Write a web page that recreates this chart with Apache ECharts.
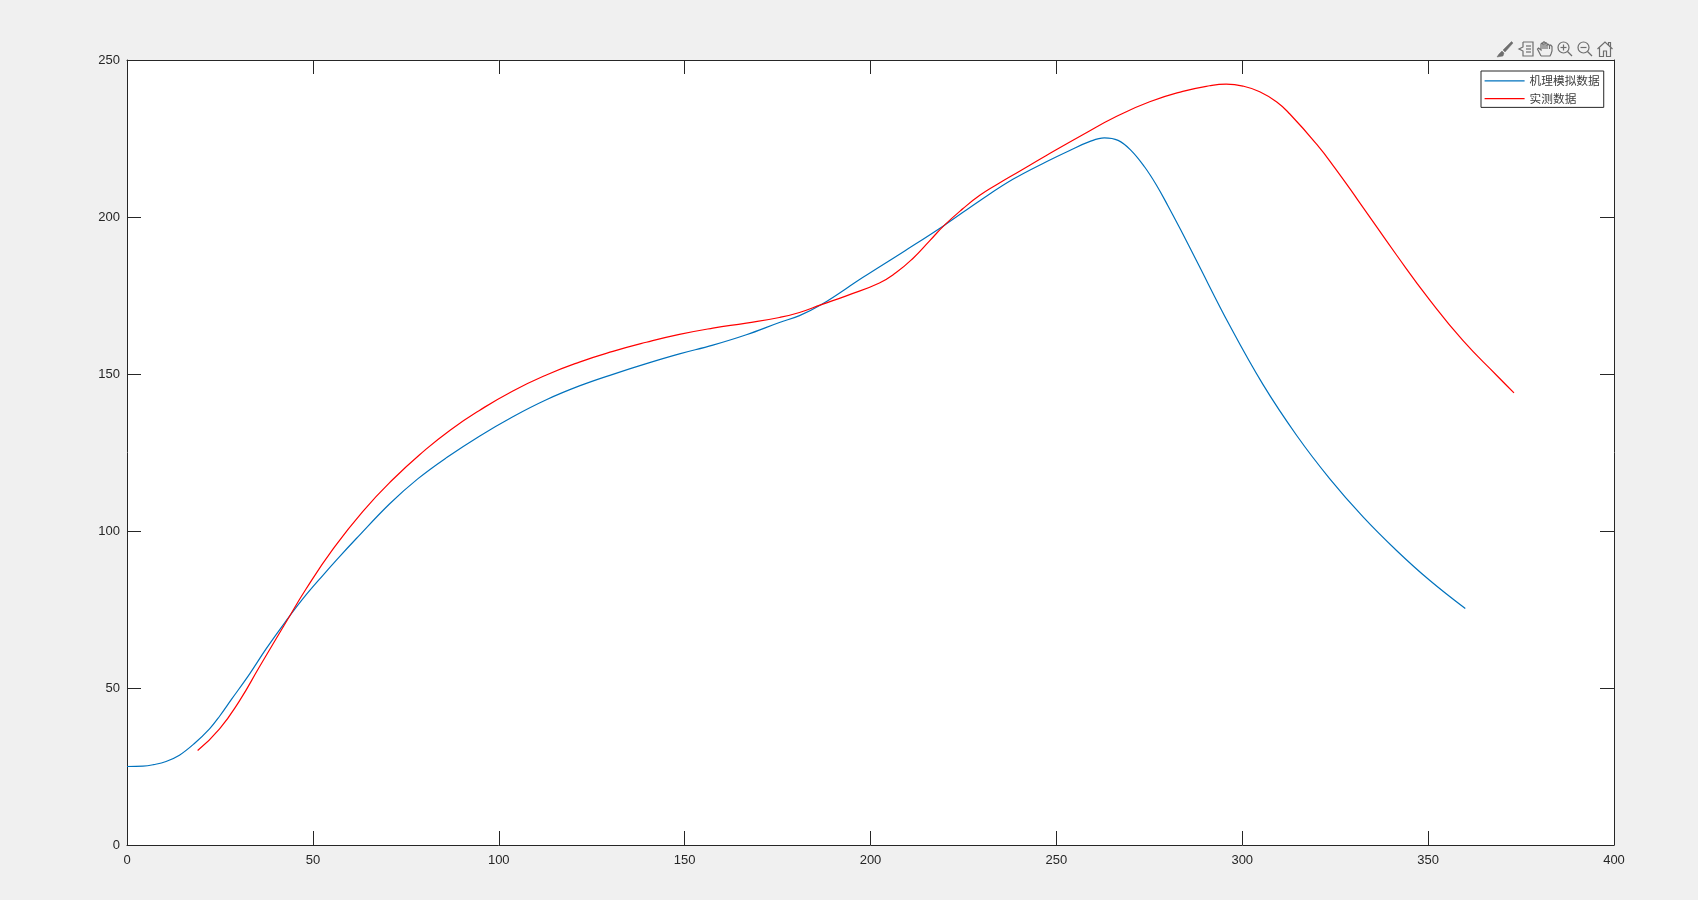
<!DOCTYPE html>
<html lang="en">
<head>
    <meta charset="UTF-8">
    <title>Figure 1</title>
    <script src="https://cdn.jsdelivr.net/npm/echarts@6/dist/echarts.min.js"></script>
    <style>
        html, body { margin: 0; padding: 0; background: #f0f0f0; }
        #main { width: 1698px; height: 900px; }
    </style>
    <script>
        // values
        const modelName = '机理模拟数据';
        const measuredName = '实测数据';
        const modelX = [0, 4.3, 7.2, 10.5, 14.1, 18.2, 22.2, 24.9, 28, 33, 37.5, 42.8, 47.5, 52.7, 57, 61.7, 70.6, 78.2, 86, 94.8, 103.8, 112.8, 121.7, 130.7, 139.7, 148.6, 157.6, 166.6, 175.5, 180.9, 186.8, 198, 209.2, 219.9, 229.4, 238.3, 247.3, 253.6, 258.9, 262.9, 266.6, 270, 273.7, 276.9, 280, 283.4, 287.6, 296.6, 305.6, 314.6, 323.5, 332.5, 341.5, 350.4, 360];
        const modelY = [25, 25.1, 25.6, 26.6, 28.6, 32.4, 37, 41, 46.2, 54.5, 62.6, 71.4, 78.7, 85.9, 91.6, 97.6, 108.6, 116.6, 123.4, 130.2, 136.4, 141.8, 146.2, 149.9, 153.3, 156.4, 159.2, 162.5, 166.4, 168.6, 172.1, 180.8, 189.2, 197.4, 205.2, 212, 217.6, 221.2, 224, 225.2, 224.4, 221.3, 216, 210.2, 203.6, 196, 186.3, 165.5, 146.6, 130.5, 116.7, 104.5, 93.8, 84.3, 75.3];
        const measuredX = [19, 24.9, 30.3, 35.6, 42.8, 48.2, 55.4, 63.4, 71.5, 80, 87, 94.8, 103.8, 112.8, 121.7, 130.7, 139.7, 148.6, 157.6, 166.6, 175.5, 180.9, 186.8, 193.5, 202.4, 206.9, 211.4, 215.9, 219.9, 224.9, 229.4, 233.8, 240.1, 247.3, 257.1, 266.1, 275.1, 284, 291.2, 295.7, 300.2, 304.7, 309.2, 312.8, 320, 325, 331.1, 341.5, 350.4, 359.4, 368.4, 373.1];
        const measuredY = [30.1, 37, 46, 56.7, 71, 81.6, 94.2, 106.2, 116.4, 125.6, 132.2, 138.4, 144.6, 149.7, 153.8, 157.2, 160.1, 162.6, 164.6, 166.2, 168, 169.6, 172.1, 174.9, 179, 182.3, 186.8, 192.4, 197.4, 202.7, 206.9, 210.2, 214.6, 219.6, 226.2, 232, 236.7, 240, 241.8, 242.3, 241.7, 239.9, 236.7, 232.8, 223.2, 215.5, 205.4, 187.9, 173.6, 160.6, 149.6, 144];
        const xMax = 400, xStep = 50;
        const yMax = 250, yStep = 50;

        // figure toolbar icons, drawn in a 16x16 box
        const iconStroke = { fill: 'none', stroke: '#6e6e6e', lineWidth: 1.2 };
        const iconFill = { fill: '#6e6e6e', stroke: '#6e6e6e', lineWidth: 0.5 };
        function poly(points, style) {
            return { type: 'polyline', shape: { points: points }, style: style || iconStroke, silent: true };
        }
        function solid(points) {
            return { type: 'polygon', shape: { points: points }, style: iconFill, silent: true };
        }
        function lens() {
            return [
                { type: 'circle', shape: { cx: 6.5, cy: 6.5, r: 5.5 }, style: iconStroke, silent: true },
                poly([[10.5, 10.5], [15, 15]]),
                poly([[3.5, 6.5], [9.5, 6.5]])
            ];
        }
        const toolIcons = [
            { x: 1497, parts: [
                solid([[14.5, 0.5], [16, 2], [8, 11], [6, 9]]),
                solid([[5, 10], [7, 12], [6, 15], [0, 16], [2, 13]])
            ] },
            { x: 1518, parts: [
                poly([[5, 1], [15, 1], [15, 15], [5, 15], [5, 10], [1, 8], [5, 6], [5, 1]]),
                poly([[8, 5], [13, 5]]), poly([[8, 8], [13, 8]]), poly([[8, 11], [13, 11]])
            ] },
            { x: 1537, parts: [
                poly([[4, 15], [2, 11], [0.5, 8], [1.5, 7], [4, 9], [4, 3], [5, 2], [6, 3], [6, 1.5], [7, 0.7], [8, 1.5], [8, 2.5], [9, 1.7], [10, 2.5], [10, 4], [11.2, 3.3], [12.5, 4.5], [13.7, 4], [15, 5.5], [15, 10], [14, 13], [13, 15], [4, 15]]),
                poly([[6, 3], [6, 8]]), poly([[8, 2.5], [8, 8]]), poly([[10, 4], [10, 8]]), poly([[12.5, 4.5], [12.5, 8]])
            ] },
            { x: 1557, parts: lens().concat([poly([[6.5, 3.5], [6.5, 9.5]])]) },
            { x: 1577, parts: lens() },
            { x: 1597, parts: [
                poly([[0.5, 8], [8, 1], [15.5, 8]]),
                poly([[2.5, 6.5], [2.5, 15.5], [6.5, 15.5], [6.5, 10], [9.5, 10], [9.5, 15.5], [13.5, 15.5], [13.5, 6.5]]),
                poly([[11.5, 4], [11.5, 1.5], [13.5, 1.5], [13.5, 6]])
            ] }
        ];

        window.onload = function () {
            let myChart = echarts.init(document.getElementById('main'));

            let axisLine = { show: true, onZero: false, lineStyle: { color: '#262626', width: 1 } };
            let axisTick = { show: true, inside: true, length: 14, lineStyle: { color: '#262626', width: 1 } };
            let axisLabel = { color: '#262626', fontFamily: 'Liberation Sans', fontSize: 13 };

            let option = {
                animation: false,
                backgroundColor: '#f0f0f0',
                grid: { left: 127, top: 60, width: 1487, height: 785, backgroundColor: '#fff', show: true, borderWidth: 0 },
                legend: {
                    orient: 'vertical',
                    left: 1481,
                    top: 71,
                    padding: [4, 4, 3, 3],
                    itemWidth: 40,
                    itemHeight: 14,
                    itemGap: 6,
                    backgroundColor: '#fff',
                    borderColor: '#262626',
                    borderWidth: 1,
                    itemStyle: { opacity: 0 },
                    lineStyle: { width: 1.2 },
                    textStyle: { color: '#404040', fontFamily: 'Noto Sans CJK SC', fontSize: 11.7 },
                    data: [modelName, measuredName]
                },
                xAxis: [
                    { type: 'value', min: 0, max: xMax, interval: xStep, position: 'bottom', axisLine: axisLine, axisTick: axisTick, axisLabel: Object.assign({ margin: 9 }, axisLabel), splitLine: { show: false } },
                    { type: 'value', min: 0, max: xMax, interval: xStep, position: 'top', axisLine: axisLine, axisTick: axisTick, axisLabel: { show: false }, splitLine: { show: false } }
                ],
                yAxis: [
                    { type: 'value', min: 0, max: yMax, interval: yStep, position: 'left', axisLine: axisLine, axisTick: axisTick, axisLabel: Object.assign({ margin: 7 }, axisLabel), splitLine: { show: false } },
                    { type: 'value', min: 0, max: yMax, interval: yStep, position: 'right', axisLine: axisLine, axisTick: axisTick, axisLabel: { show: false }, splitLine: { show: false } }
                ],
                series: [
                    {
                        name: modelName,
                        type: 'line',
                        symbol: 'none',
                        smooth: 0.4,
                        lineStyle: { color: '#0072BD', width: 1.2 },
                        itemStyle: { color: '#0072BD' },
                        data: modelX.map((x, i) => [x, modelY[i]])
                    },
                    {
                        name: measuredName,
                        type: 'line',
                        symbol: 'none',
                        smooth: 0.5,
                        lineStyle: { color: '#FF0000', width: 1.2 },
                        itemStyle: { color: '#FF0000' },
                        data: measuredX.map((x, i) => [x, measuredY[i]])
                    }
                ],
                graphic: toolIcons.map(icon => ({
                    type: 'group',
                    x: icon.x,
                    y: 41,
                    silent: true,
                    children: icon.parts
                }))
            };
            myChart.setOption(option);
        };
    </script>
</head>
<body>
<div id="main"></div>
</body>
</html>
